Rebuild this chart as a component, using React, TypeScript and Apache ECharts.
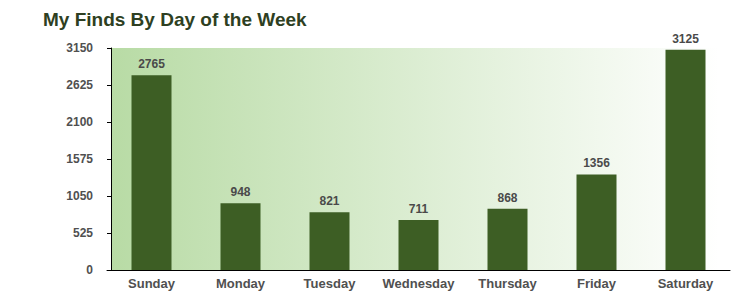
import React, { useEffect, useRef } from "react";
import * as echarts from "echarts";

const categories = ["Sunday", "Monday", "Tuesday", "Wednesday", "Thursday", "Friday", "Saturday"];
const finds = [2765, 948, 821, 711, 868, 1356, 3125];
const yMin = 0;
const yMax = 3150;
const yInterval = 525;
const titleText = "My Finds By Day of the Week";

export default function App() {
  const ref = useRef<HTMLDivElement>(null);
  useEffect(() => {
    if (!ref.current) return;
    const chart = echarts.init(ref.current, undefined, { renderer: "svg" });
    const font = "'Liberation Sans', Arial, sans-serif";
    chart.setOption({
      animation: false,
      backgroundColor: "#ffffff",
      title: {
        text: titleText,
        left: 38,
        top: 5,
        textStyle: { fontFamily: font, fontSize: 19, fontWeight: "bold", color: "#2e3f22" },
      },
      graphic: [
        {
          type: "rect",
          z: -1,
          shape: { x: 111, y: 48, width: 608, height: 222 },
          style: {
            fill: new echarts.graphic.LinearGradient(0, 0, 1, 0, [
              { offset: 0, color: "#b8dba5" },
              { offset: 1, color: "#ffffff" },
            ]),
          },
        },
      ],
      grid: { left: 107, right: 20, top: 48, bottom: 38 },
      xAxis: {
        type: "category",
        data: categories,
        axisLine: { lineStyle: { color: "#000000", width: 1 } },
        axisTick: { alignWithLabel: true, length: 4, lineStyle: { color: "#000000" } },
        axisLabel: {
          interval: 0,
          hideOverlap: false,
          fontFamily: font,
          fontSize: 13,
          fontWeight: "bold",
          color: "#505050",
          margin: 7,
        },
      },
      yAxis: {
        type: "value",
        min: yMin,
        max: yMax,
        interval: yInterval,
        offset: -4,
        axisLine: { show: true, lineStyle: { color: "#000000", width: 1 } },
        axisTick: { show: true, length: 4, lineStyle: { color: "#000000" } },
        splitLine: { show: false },
        axisLabel: {
          fontFamily: font,
          fontSize: 12,
          fontWeight: "bold",
          color: "#505050",
          margin: 18,
          formatter: (v: number) => String(v),
        },
      },
      series: [
        {
          type: "bar",
          data: finds,
          barWidth: 40,
          itemStyle: { color: "#3d5e24" },
          label: {
            show: true,
            position: "top",
            distance: 5,
            fontFamily: font,
            fontSize: 12,
            fontWeight: "bold",
            color: "#4a4a4a",
          },
        },
      ],
    });
    return () => chart.dispose();
  }, []);
  return (
    <div
      ref={ref}
      style={{ position: "fixed", left: 0, top: 0, width: 750, height: 308 }}
    />
  );
}
